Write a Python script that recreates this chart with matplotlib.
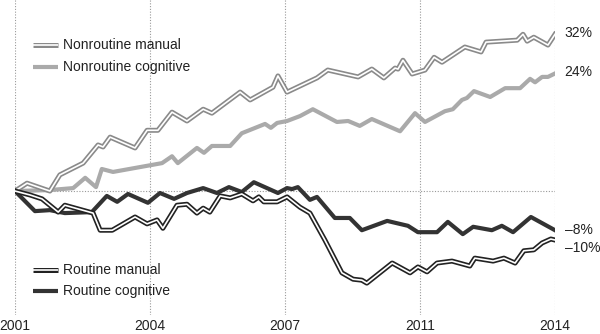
import matplotlib.pyplot as plt

# employment change by job type, % since 2001
# x = position in years along the chart (0 = 2001, 13 = 2014)

nr_manual_x = [0, 0.29, 0.84, 1.08, 1.64, 2.00, 2.12, 2.29, 2.89, 3.18, 3.44, 3.78, 4.14, 4.53,
               4.74, 5.42, 5.66, 6.21, 6.33, 6.55, 7.27, 7.53, 8.26, 8.59, 8.88, 9.15, 9.22,
               9.34, 9.56, 9.87, 10.09, 10.28, 10.83, 11.22, 11.34, 12.09, 12.23, 12.33,
               12.49, 12.83, 13]
nr_manual_y = [0, 1.6, 0, 3.3, 5.7, 9.4, 9.0, 11.0, 8.8, 12.4, 12.4, 16.1, 14.3, 16.7,
               15.9, 20.2, 18.6, 21.2, 23.5, 20.2, 23.1, 24.7, 23.3, 24.9, 23.1, 25.1, 24.9,
               26.7, 23.9, 24.7, 27.3, 26.3, 29.4, 28.4, 30.4, 30.8, 32.0, 30.6,
               31.4, 29.8, 32]

nr_cog_x = [0, 0.84, 1.40, 1.69, 1.95, 2.09, 2.36, 3.54, 3.78, 3.92, 4.38, 4.55, 4.74, 5.18,
            5.46, 6.02, 6.16, 6.31, 6.55, 6.86, 7.17, 7.75, 8.02, 8.30, 8.59, 9.27, 9.63,
            9.87, 10.35, 10.54, 10.76, 10.88, 11.05, 11.44, 11.80, 12.16, 12.40, 12.52,
            12.69, 12.83, 13]
nr_cog_y = [0, 0.2, 0.6, 2.7, 0.8, 4.5, 3.9, 5.7, 7.1, 5.7, 8.8, 7.8, 9.2, 9.2,
            11.8, 13.7, 12.9, 13.9, 14.3, 15.3, 16.7, 14.1, 14.3, 13.3, 14.7, 12.2, 15.9,
            14.1, 16.3, 16.7, 18.6, 19.0, 20.4, 19.2, 21.0, 21.0, 22.9, 22.2,
            23.3, 23.3, 24]

r_cog_x = [0, 0.48, 0.84, 1.20, 1.85, 2.21, 2.46, 2.72, 3.20, 3.49, 3.83, 4.14, 4.53, 4.86,
           5.15, 5.46, 5.75, 6.33, 6.55, 6.67, 6.81, 7.10, 7.27, 7.70, 8.06, 8.35, 8.96,
           9.46, 9.70, 10.16, 10.42, 10.78, 11.03, 11.48, 11.72, 11.99, 12.42, 13]
r_cog_y = [0, -4.1, -3.9, -4.5, -4.3, -1.0, -2.2, -0.6, -2.4, -0.4, -1.6, -0.4, 0.6, -0.4,
           0.8, -0.2, 1.8, -0.4, 0.6, 0.4, 0.8, -1.8, -1.2, -5.5, -5.5, -8.0, -6.1,
           -7.1, -8.4, -8.4, -6.3, -8.8, -7.3, -8.0, -7.1, -8.4, -5.3, -8]

r_manual_x = [0, 0.36, 0.65, 1.04, 1.20, 1.88, 2.05, 2.34, 2.89, 3.18, 3.42, 3.56, 3.90, 4.14,
              4.38, 4.53, 4.69, 4.94, 5.18, 5.46, 5.73, 5.87, 5.99, 6.31, 6.55, 6.86, 7.10,
              7.46, 7.87, 8.14, 8.35, 8.47, 9.08, 9.51, 9.70, 9.92, 10.16, 10.52, 10.95,
              11.07, 11.51, 11.77, 12.04, 12.25, 12.49, 12.69, 12.90, 13]
r_manual_y = [0, -0.8, -1.6, -4.3, -2.9, -4.5, -8.0, -8.0, -5.3, -6.7, -5.9, -7.6, -2.9, -2.7,
              -4.5, -3.5, -4.3, -1.0, -1.4, -0.6, -2.0, -1.2, -2.2, -2.2, -1.2, -3.3, -4.5,
              -10.0, -16.7, -18.0, -18.2, -18.8, -14.7, -16.7, -15.5, -16.5, -14.7, -14.3, -15.3,
              -13.7, -14.3, -13.7, -14.7, -12.2, -12.0, -10.6, -9.8, -10]

tick_pos = [0, 3.25, 6.5, 9.75, 13]
tick_labels = ['2001', '2004', '2007', '2011', '2014']

FONT = 'Liberation Sans'
FS = 10
TXT = '#222222'

fig = plt.figure(figsize=(6, 3.34), dpi=100)
ax = fig.add_axes([0.025, 0.057, 0.9, 0.943])

for t in tick_pos:
    ax.axvline(t, color='#999999', lw=0.8, ls=(0, (1, 1.5)), zorder=0)
ax.axhline(0, color='#999999', lw=0.8, ls=(0, (1, 1.5)), zorder=0)

ax.plot(nr_cog_x, nr_cog_y, color='#aaaaaa', lw=3)
ax.plot(nr_manual_x, nr_manual_y, color='#8a8a8a', lw=3.6)
ax.plot(nr_manual_x, nr_manual_y, color='white', lw=1.2)
ax.plot(r_cog_x, r_cog_y, color='#333333', lw=3)
ax.plot(r_manual_x, r_manual_y, color='#222222', lw=3.6)
ax.plot(r_manual_x, r_manual_y, color='white', lw=1.2)

ax.set_xlim(0, 13)
ax.set_ylim(-25.3, 39)
ax.set_xticks(tick_pos)
ax.set_xticklabels(tick_labels, fontfamily=FONT, fontsize=FS, color=TXT)
ax.tick_params(axis='x', length=0, pad=3)
ax.set_yticks([])
for s in ax.spines.values():
    s.set_visible(False)

# end labels
end_labels = [(nr_manual_y[-1], 1), (nr_cog_y[-1], 1), (r_cog_y[-1], 0), (r_manual_y[-1], -6)]
for val, off in end_labels:
    txt = f'{val:.0f}%'.replace('-', '\u2013')
    ax.annotate(txt, (13, val), xytext=(7, off), textcoords='offset points',
                va='center', ha='left', fontfamily=FONT, fontsize=FS, color=TXT,
                annotation_clip=False)

# legends
def legend_row(y, label, outer, inner=None, lw=3):
    ax.plot([0.033, 0.08], [y, y], transform=ax.transAxes, color=outer, lw=lw,
            solid_capstyle='butt')
    if inner:
        ax.plot([0.033, 0.08], [y, y], transform=ax.transAxes, color=inner, lw=1.2,
                solid_capstyle='butt')
    ax.text(0.089, y, label, transform=ax.transAxes, va='center', ha='left',
            fontfamily=FONT, fontsize=FS, color=TXT)

legend_row(0.857, 'Nonroutine manual', '#8a8a8a', 'white', lw=3.6)
legend_row(0.787, 'Nonroutine cognitive', '#aaaaaa')
legend_row(0.143, 'Routine manual', '#222222', 'white', lw=3.6)
legend_row(0.076, 'Routine cognitive', '#333333')

plt.savefig('out.png', dpi=100)
